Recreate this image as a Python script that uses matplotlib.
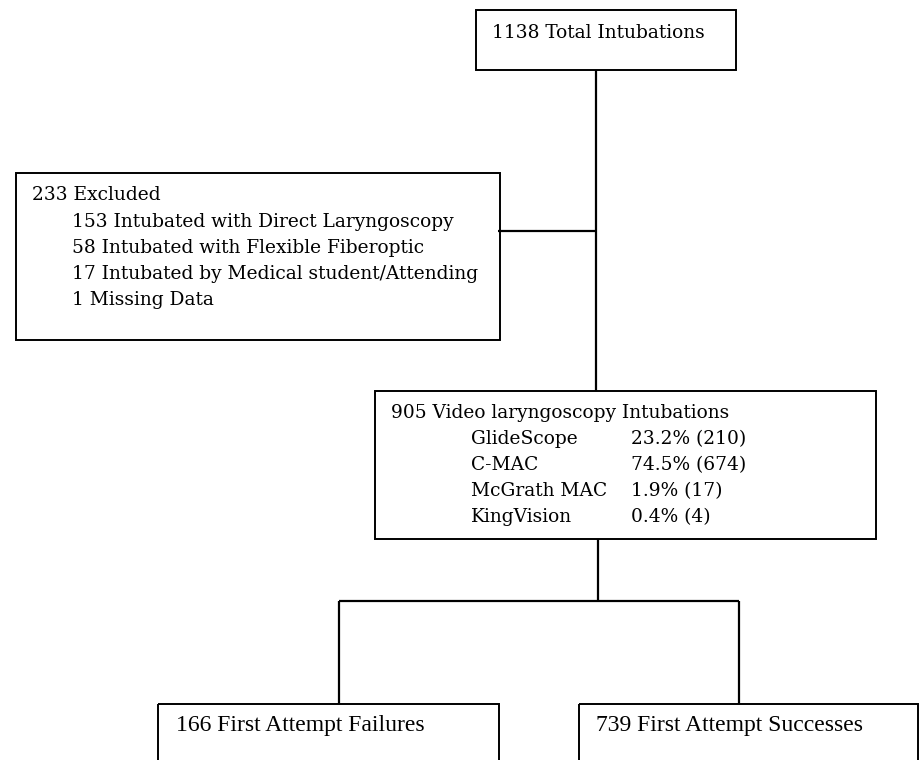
import matplotlib.pyplot as plt
from matplotlib.patches import Rectangle

total_label = "1138 Total Intubations"
excluded_title = "233 Excluded"
excluded_items = [
    "153 Intubated with Direct Laryngoscopy",
    "58 Intubated with Flexible Fiberoptic",
    "17 Intubated by Medical student/Attending",
    "1 Missing Data",
]
video_title = "905 Video laryngoscopy Intubations"
devices = ["GlideScope", "C-MAC", "McGrath MAC", "KingVision"]
device_stats = ["23.2% (210)", "74.5% (674)", "1.9% (17)", "0.4% (4)"]
failure_label = "166 First Attempt Failures"
success_label = "739 First Attempt Successes"

W, H = 919, 760
FONT = "DejaVu Serif"
FS = 13.4


def box(ax, x0, y0, x1, y1):
    ax.add_patch(Rectangle((x0, y0), x1 - x0, y1 - y0, fill=False,
                           edgecolor="black", linewidth=1.4))


def line(ax, xs, ys):
    ax.plot(xs, ys, color="black", linewidth=1.6, solid_capstyle="butt")


def txt(ax, x, y, s, **kw):
    kw.setdefault("family", FONT)
    kw.setdefault("fontsize", FS)
    ax.text(x, y, s, va="center", ha="left", **kw)


def main():
    fig = plt.figure(figsize=(W / 100, H / 100), dpi=100)
    ax = fig.add_axes([0, 0, 1, 1])
    ax.set_xlim(0, W)
    ax.set_ylim(H, 0)
    ax.axis("off")

    # top box
    box(ax, 476, 10, 736, 70)
    txt(ax, 492, 33, total_label)

    # trunk + side branch
    line(ax, [596, 596], [70, 391])
    line(ax, [498, 596], [231, 231])

    # excluded box
    box(ax, 16, 173, 500, 340)
    txt(ax, 32, 195, excluded_title)
    for i, t in enumerate(excluded_items):
        txt(ax, 72, 222 + i * 26, t)

    # video laryngoscopy box
    box(ax, 375, 391, 876, 539)
    txt(ax, 391, 413, video_title)
    for i, (d, s) in enumerate(zip(devices, device_stats)):
        y = 439 + i * 26
        txt(ax, 471, y, d)
        txt(ax, 631, y, s)

    # split into two outcomes
    line(ax, [598, 598], [539, 601])
    line(ax, [339, 739], [601, 601])
    line(ax, [339, 339], [601, 704])
    line(ax, [739, 739], [601, 704])

    # outcome boxes (cut off at the bottom edge)
    box(ax, 158, 704, 499, 800)
    box(ax, 579, 704, 918, 800)
    txt(ax, 176, 726, failure_label, family="Liberation Serif", fontsize=17)
    txt(ax, 596, 726, success_label, family="Liberation Serif", fontsize=17)

    fig.savefig("out.png", dpi=100)


if __name__ == '__main__':
    main()
